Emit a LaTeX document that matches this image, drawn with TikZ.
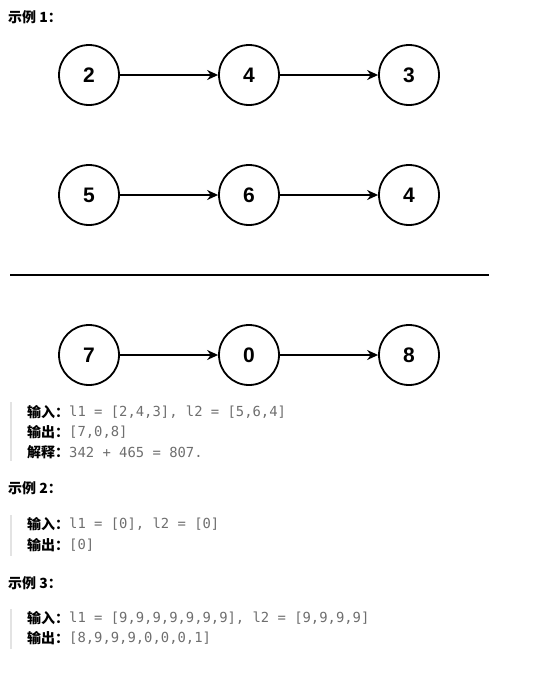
\documentclass[tikz,border=0pt]{standalone}
\usepackage{fontspec}
\setmainfont{Liberation Sans}
\newfontfamily\cjk{Noto Sans CJK SC}
\newfontfamily\monof{DejaVu Sans Mono}
\usetikzlibrary{arrows.meta}
\definecolor{codegray}{HTML}{6E6E6E}
\definecolor{barcol}{HTML}{E3E3E3}
\tikzset{
  numnode/.style={circle, draw, line width=1.8pt, minimum size=60pt, inner sep=0pt, font=\bfseries\fontsize{21}{21}\selectfont},
  link/.style={line width=1.5pt, -{Stealth[length=11pt,width=10pt]}},
  heading/.style={anchor=west, inner sep=0pt, font=\cjk\bfseries\fontsize{14}{14}\selectfont},
  label/.style={anchor=west, inner sep=0pt, font=\cjk\bfseries\fontsize{14}{14}\selectfont},
  code/.style={anchor=west, inner sep=0pt, text=codegray, font=\monof\fontsize{13.85}{13.85}\selectfont},
  bar/.style={barcol, line width=2.5pt}
}
\begin{document}
\begin{tikzpicture}[x=1pt,y=-1pt]
\useasboundingbox (0,0) rectangle (559,673);
% Example 1 heading
\node[heading] (h1) at (8,17) {示例 1：};
% list rows
\node[numnode] (a1) at (89,75) {2};
\node[numnode] (a2) at (249,75) {4};
\node[numnode] (a3) at (409,75) {3};
\node[numnode] (b1) at (89,195) {5};
\node[numnode] (b2) at (249,195) {6};
\node[numnode] (b3) at (409,195) {4};
\node[numnode] (c1) at (89,355) {7};
\node[numnode] (c2) at (249,355) {0};
\node[numnode] (c3) at (409,355) {8};
\draw[link] (a1) -- (a2);
\draw[link] (a2) -- (a3);
\draw[link] (b1) -- (b2);
\draw[link] (b2) -- (b3);
\draw[link] (c1) -- (c2);
\draw[link] (c2) -- (c3);
% separator
\coordinate (s1) at (10,275);
\coordinate (s2) at (489,275);
\draw[line width=2pt] (s1) -- (s2);
% Example 1 text
\coordinate (bar1a) at (11,402);
\coordinate (bar1b) at (11,461);
\draw[bar] (bar1a) -- (bar1b);
\node[label] (l1a) at (27,412) {输入：};
\node[code] (c1a) at (69,412) {l1 = [2,4,3], l2 = [5,6,4]};
\node[label] (l1b) at (27,432) {输出：};
\node[code] (c1b) at (69,432) {[7,0,8]};
\node[label] (l1c) at (27,452) {解释：};
\node[code] (c1c) at (69,452) {342 + 465 = 807.};
% Example 2
\node[heading] (h2) at (8,488) {示例 2：};
\coordinate (bar2a) at (11,515);
\coordinate (bar2b) at (11,556);
\draw[bar] (bar2a) -- (bar2b);
\node[label] (l2a) at (27,524) {输入：};
\node[code] (c2a) at (69,524) {l1 = [0], l2 = [0]};
\node[label] (l2b) at (27,545) {输出：};
\node[code] (c2b) at (69,545) {[0]};
% Example 3
\node[heading] (h3) at (8,583) {示例 3：};
\coordinate (bar3a) at (11,609);
\coordinate (bar3b) at (11,649);
\draw[bar] (bar3a) -- (bar3b);
\node[label] (l3a) at (27,618) {输入：};
\node[code] (c3a) at (69,618) {l1 = [9,9,9,9,9,9,9], l2 = [9,9,9,9]};
\node[label] (l3b) at (27,638) {输出：};
\node[code] (c3b) at (69,638) {[8,9,9,9,0,0,0,1]};
\end{tikzpicture}
\end{document}
